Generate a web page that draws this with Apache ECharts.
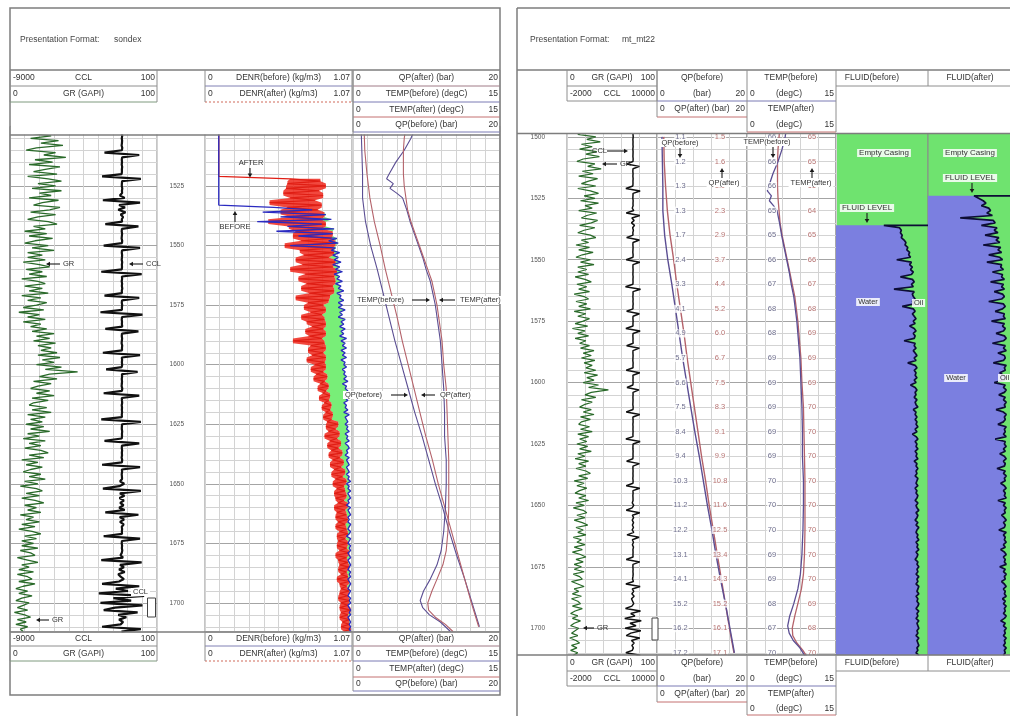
<!DOCTYPE html>
<html>
<head>
<meta charset="utf-8">
<title>Production log before / after</title>
<script src="https://cdn.jsdelivr.net/npm/echarts@6/dist/echarts.min.js"></script>
<style>
html,body{margin:0;padding:0;background:#fff;}
#chart{width:1010px;height:716px;}
</style>
</head>
<body>
<div id="chart"></div>
<script>
// ---------------------------------------------------------------
// Log data. The 1 m curves start at DEPTH_TOP and step 1 m.
// ---------------------------------------------------------------
const DEPTH_TOP = 1495;

// Gamma ray (GAPI)
const grGapi = [
  31,15,34,20,12,32,22,37,16,28,
  14,33,21,36,18,11,31,23,38,17,
  29,13,34,24,16,32,12,26,35,19,
  31,15,35,20,28,13,33,22,16,34,
  27,14,31,19,12,26,32,16,24,10,
  25,13,29,17,10,26,15,30,12,22,
  12,24,9,20,27,11,22,13,25,8,
  19,24,10,22,13,26,8,21,12,25,
  18,9,23,6,20,12,24,9,21,14,
  25,15,30,18,27,16,31,19,28,21,
  32,19,34,22,30,18,35,24,46,27,
  20,32,16,28,19,14,27,18,30,15,
  26,16,13,25,15,28,12,24,14,22,
  11,23,14,27,12,20,9,24,13,21,
  10,21,26,13,23,8,19,11,22,14,
  9,21,13,24,10,19,7,18,22,11,
  20,8,17,23,10,18,12,21,7,16,
  11,20,8,17,6,15,21,10,18,8,
  16,8,19,7,14,17,5,12,19,8,
  13,6,16,5,12,15,6,17,9,4,
  12,6,15,8,4,13,9,5,12,3,
  10,14,5,11,4,12,7,9
];

// Casing collar locator, sondex format
const cclSondex = [
  -2060,-2080,-2050,-2090,-2070,-2040,-2085,-2065,-2075,-2055,
  -2080,-2060,-2070,-2090,-2050,-2075,-3150,-1000,-2060,-2080,
  -2065,-2085,-2055,-2075,-2070,-2090,-3300,-900,-2060,-2075,
  -2080,-2050,-2070,-2060,-2200,-1900,-3250,-950,-2250,-1880,
  -2300,-1850,-2150,-2000,-2080,-2060,-3100,-1050,-2070,-2085,
  -2060,-2075,-2090,-2055,-2070,-3200,-950,-2065,-2080,-2060,
  -2070,-2085,-2055,-2075,-2065,-2080,-3350,-850,-2070,-2060,
  -2085,-2060,-2075,-2050,-2080,-2070,-3150,-1000,-2065,-2080,
  -2055,-2075,-2070,-3400,-800,-2060,-2085,-2065,-2075,-2050,
  -3100,-1050,-2070,-2080,-2060,-2075,-2090,-2055,-2070,-2065,
  -3250,-950,-2080,-2060,-2075,-2055,-2085,-3050,-1100,-2070,
  -2060,-2080,-2065,-2075,-2090,-2050,-2070,-3200,-1000,-2080,
  -2070,-2055,-2085,-2065,-2075,-2060,-2080,-2070,-3350,-900,
  -2060,-2075,-2080,-2055,-2070,-2065,-2085,-3150,-1000,-2070,
  -2080,-2060,-2075,-2065,-2090,-2055,-2070,-3300,-950,-2075,
  -2060,-2085,-2070,-2065,-2190,-1930,-2230,-3250,-900,-2200,
  -1920,-2220,-1950,-2180,-1970,-2240,-1900,-3100,-1050,-2210,
  -1940,-2190,-1960,-2080,-2060,-2075,-2065,-3200,-950,-2070,
  -2085,-2060,-2075,-2050,-2080,-2160,-2000,-3350,-850,-2190,
  -1950,-2250,-1900,-2300,-2150,-1950,-2250,-3300,-1000,-2450,
  -1700,-3500,-700,-2600,-1500,-3400,-800,-2500,-3200,-1100,
  -2300,-1800,-2250,-2000,-2150,-3300,-900,-2100
];

// Casing collar locator, mt format
const cclMt = [
  6790,6820,6780,6810,6800,6830,6785,6805,6795,6815,
  6780,6810,6800,6790,6820,6795,5950,7650,6800,6780,
  6805,6785,6815,6795,6800,6780,5850,7750,6810,6795,
  6780,6820,6800,6810,6700,6900,5900,7700,6650,6950,
  6600,7000,6750,6850,6780,6800,5950,7650,6800,6785,
  6810,6795,6780,6815,6800,5900,7700,6805,6790,6810,
  6800,6785,6815,6795,6805,6790,5800,7800,6800,6810,
  6785,6810,6795,6820,6790,6800,5950,7650,6805,6790,
  6815,6795,6800,5850,7750,6810,6785,6805,6795,6820,
  5950,7650,6800,6790,6810,6795,6780,6815,6800,6805,
  5900,7700,6790,6810,6795,6815,6785,6000,7600,6800,
  6810,6790,6805,6795,6780,6820,6800,5900,7700,6790,
  6800,6815,6785,6805,6795,6810,6790,6800,5850,7750,
  6810,6795,6790,6815,6800,6805,6785,5950,7650,6800,
  6790,6810,6795,6805,6780,6815,6800,5900,7700,6795,
  6810,6785,6800,6805,6700,6900,6680,5900,7700,6720,
  6880,6700,6870,6720,6860,6690,6900,6000,7600,6710,
  6870,6720,6860,6790,6810,6795,6805,5900,7700,6800,
  6785,6810,6795,6820,6790,6740,6860,5850,7750,6700,
  6900,6650,6950,6600,6750,6900,6650,5800,7800,6500,
  7050,5700,7900,6400,7200,5750,7850,6500,5900,7700,
  6600,6950,6650,6850,6700,5850,7750,6750
];

// Fluid density before (kg/m3 scale 0 - 1.07)
const denrBefore = [
  0.10,0.10,0.10,0.10,0.10,0.10,0.10,0.10,0.10,0.10,
  0.10,0.10,0.10,0.10,0.10,0.10,0.10,0.10,0.10,0.10,
  0.10,0.10,0.10,0.10,0.10,0.10,0.10,0.10,0.10,0.10,
  0.10,0.10,0.10,0.10,0.10,0.10,0.10,0.10,0.10,0.50,
  0.78,0.42,0.88,0.55,0.92,0.38,0.85,0.60,0.94,0.52,
  0.93,0.68,0.96,0.90,0.97,0.62,0.95,0.92,0.98,0.93,
  0.97,0.94,0.99,0.93,0.98,0.95,1.00,0.94,0.98,0.96,
  1.00,0.95,0.99,0.97,1.01,0.96,0.99,0.98,1.01,0.97,
  1.00,0.97,1.02,0.98,1.00,0.97,1.02,0.99,1.01,0.98,
  1.02,0.99,1.01,0.98,1.03,0.99,1.02,1.00,1.03,0.99,
  1.02,1.00,1.03,0.99,1.02,1.01,1.03,1.00,1.02,1.01,
  1.03,1.01,1.04,1.00,1.03,1.02,1.04,1.01,1.03,1.02,
  1.04,1.01,1.03,1.02,1.04,1.01,1.05,1.02,1.03,1.04,
  1.02,1.04,1.03,1.05,1.02,1.04,1.03,1.05,1.02,1.04,
  1.05,1.03,1.04,1.02,1.05,1.03,1.04,1.05,1.03,1.04,
  1.05,1.03,1.05,1.04,1.06,1.03,1.05,1.04,1.06,1.04,
  1.05,1.06,1.04,1.05,1.03,1.06,1.04,1.05,1.06,1.04,
  1.05,1.04,1.06,1.05,1.04,1.06,1.05,1.03,1.06,1.05,
  1.04,1.06,1.05,1.06,1.04,1.05,1.06,1.04,1.05,1.06,
  1.05,1.04,1.06,1.05,1.06,1.04,1.05,1.06,1.05,1.04,
  1.06,1.05,1.04,1.06,1.05,1.06,1.04,1.05,1.06,1.05,
  1.06,1.04,1.05,1.06,1.05,1.06,1.05,1.06
];

// Fluid density after
const denrAfter = [
  0.10,0.10,0.10,0.10,0.10,0.10,0.10,0.10,0.10,0.10,
  0.10,0.10,0.10,0.10,0.10,0.10,0.10,0.10,0.10,0.10,
  0.10,0.10,0.10,0.10,0.10,0.10,0.10,0.62,0.84,0.60,
  0.88,0.59,0.83,0.57,0.86,0.62,0.80,0.47,0.85,0.60,
  0.82,0.55,0.87,0.63,0.84,0.46,0.88,0.61,0.85,0.66,
  0.93,0.64,0.92,0.70,0.95,0.58,0.93,0.69,0.94,0.72,
  0.90,0.66,0.95,0.71,0.93,0.62,0.96,0.73,0.94,0.68,
  0.95,0.74,0.93,0.70,0.94,0.76,0.91,0.66,0.90,0.75,
  0.86,0.72,0.88,0.77,0.85,0.70,0.87,0.74,0.88,0.78,
  0.86,0.73,0.88,0.76,0.85,0.64,0.87,0.77,0.88,0.75,
  0.86,0.78,0.88,0.74,0.87,0.80,0.88,0.77,0.86,0.81,
  0.89,0.79,0.87,0.84,0.90,0.82,0.88,0.86,0.91,0.83,
  0.90,0.87,0.92,0.85,0.91,0.88,0.93,0.86,0.92,0.89,
  0.97,0.88,0.95,0.90,0.98,0.87,0.96,0.91,0.99,0.89,
  0.97,0.92,1.00,0.90,0.98,0.93,1.01,0.91,0.99,0.94,
  1.02,0.92,1.00,0.95,1.03,0.93,1.01,0.96,1.02,0.94,
  1.03,0.95,1.01,0.97,1.04,0.94,1.02,0.96,1.03,0.95,
  1.04,0.97,1.02,0.95,1.03,0.98,1.04,0.96,1.02,0.97,
  1.04,0.96,1.03,0.98,1.05,0.95,1.03,0.97,1.04,0.98,
  1.05,0.97,1.03,0.99,1.04,0.96,1.05,0.98,1.03,0.99,
  1.05,0.98,1.04,0.97,1.05,0.99,1.04,0.98,1.06,0.99,
  1.04,0.98,1.05,1.00,1.05,0.99,1.06,1.01
];

// Water / oil boundary, fraction of track (below the fluid level)
const fluidBefore = [
  null,null,null,null,null,null,null,null,null,null,
  null,null,null,null,null,null,null,null,null,null,
  null,null,null,null,null,null,null,null,null,null,
  null,null,null,null,null,null,null,null,null,null,
  null,0.52,0.69,0.71,0.70,0.72,0.71,0.74,0.76,0.75,
  0.78,0.77,0.80,0.79,0.81,0.66,0.82,0.80,0.83,0.81,
  0.84,0.82,0.70,0.83,0.85,0.82,0.84,0.63,0.85,0.83,
  0.84,0.86,0.83,0.85,0.72,0.84,0.86,0.83,0.85,0.87,
  0.84,0.86,0.80,0.85,0.87,0.84,0.86,0.85,0.74,0.86,
  0.85,0.87,0.84,0.86,0.88,0.85,0.87,0.78,0.86,0.88,
  0.85,0.87,0.86,0.88,0.85,0.87,0.81,0.86,0.88,0.86,
  0.87,0.85,0.88,0.86,0.87,0.89,0.84,0.87,0.86,0.88,
  0.86,0.88,0.87,0.89,0.86,0.88,0.83,0.87,0.89,0.86,
  0.88,0.87,0.89,0.86,0.88,0.87,0.89,0.85,0.88,0.87,
  0.89,0.87,0.88,0.86,0.89,0.88,0.87,0.89,0.86,0.88,
  0.87,0.89,0.88,0.86,0.89,0.87,0.88,0.90,0.87,0.89,
  0.88,0.86,0.89,0.87,0.90,0.88,0.87,0.89,0.88,0.90,
  0.87,0.89,0.88,0.90,0.87,0.89,0.88,0.86,0.89,0.88,
  0.90,0.88,0.89,0.87,0.90,0.88,0.89,0.87,0.90,0.89,
  0.88,0.90,0.87,0.89,0.88,0.90,0.89,0.87,0.90,0.88,
  0.89,0.87,0.90,0.88,0.89,0.90,0.88,0.89,0.87,0.90,
  0.88,0.89,0.90,0.88,0.89,0.87,0.90,0.89
];

const fluidAfter = [
  null,null,null,null,null,null,null,null,null,null,
  null,null,null,null,null,null,null,null,null,null,
  null,null,null,null,null,null,null,null,null,0.50,
  0.55,0.60,0.63,0.58,0.66,0.68,0.64,0.70,0.35,0.71,
  0.73,0.58,0.75,0.72,0.76,0.62,0.77,0.74,0.78,0.60,
  0.79,0.76,0.80,0.66,0.78,0.81,0.64,0.80,0.79,0.82,
  0.70,0.81,0.80,0.83,0.68,0.82,0.80,0.83,0.72,0.81,
  0.83,0.80,0.66,0.82,0.84,0.81,0.73,0.83,0.82,0.84,
  0.69,0.83,0.81,0.84,0.82,0.74,0.83,0.85,0.82,0.70,
  0.84,0.82,0.85,0.76,0.83,0.84,0.82,0.71,0.85,0.83,
  0.84,0.78,0.82,0.85,0.83,0.72,0.84,0.82,0.85,0.83,
  0.77,0.84,0.82,0.85,0.83,0.84,0.74,0.82,0.85,0.83,
  0.84,0.82,0.76,0.85,0.83,0.84,0.82,0.85,0.73,0.84,
  0.83,0.85,0.82,0.84,0.78,0.83,0.85,0.82,0.84,0.83,
  0.75,0.84,0.82,0.85,0.83,0.84,0.79,0.83,0.85,0.82,
  0.84,0.83,0.85,0.76,0.84,0.82,0.85,0.83,0.84,0.80,
  0.83,0.85,0.82,0.84,0.83,0.77,0.85,0.82,0.84,0.83,
  0.85,0.82,0.84,0.79,0.83,0.85,0.82,0.84,0.83,0.85,
  0.78,0.84,0.82,0.85,0.83,0.84,0.80,0.83,0.85,0.82,
  0.84,0.83,0.85,0.81,0.84,0.82,0.85,0.83,0.84,0.82,
  0.85,0.83,0.79,0.84,0.82,0.85,0.83,0.84,0.82,0.85,
  0.83,0.84,0.82,0.85,0.83,0.84,0.82,0.85
];

const fluidLevelBefore = 1536;
const fluidLevelAfter = 1524;

// Station readouts every 10 m
const labelDepths = [1500,1510,1520,1530,1540,1550,1560,1570,1580,1590,1600,1610,1620,1630,1640,1650,1660,1670,1680,1690,1700,1710];
const qpBefore = [1.1,1.2,1.3,1.3,1.7,2.4,3.3,4.1,4.9,5.7,6.6,7.5,8.4,9.4,10.3,11.2,12.2,13.1,14.1,15.2,16.2,17.2];
const qpAfter  = [1.5,1.6,1.9,2.3,2.9,3.7,4.4,5.2,6.0,6.7,7.5,8.3,9.1,9.9,10.8,11.6,12.5,13.4,14.3,15.2,16.1,17.1];
const tempBeforeLabels = [66,66,66,65,65,66,67,68,68,69,69,69,69,69,70,70,70,69,69,68,67,70];
const tempAfterLabels  = [65,65,65,64,65,66,67,68,69,69,69,70,70,70,70,70,70,70,70,69,68,70];

// Temperature curves [depth, value]
const tempBeforeCurve = [
  [1495,66.4],[1500,66.0],[1505,65.4],[1510,64.6],[1515,63.6],[1520,62.8],[1522,62.5],[1524,63.3],
  [1526,62.9],[1528,63.7],[1530,64.4],[1535,64.9],[1540,65.3],[1545,65.8],[1550,66.3],[1555,66.8],
  [1560,67.2],[1565,67.7],[1570,68.0],[1575,68.3],[1580,68.5],[1590,68.9],[1600,69.1],[1610,69.3],
  [1620,69.4],[1630,69.4],[1640,69.6],[1650,69.6],[1660,69.5],[1670,69.3],[1678,69.0],[1684,68.5],
  [1690,67.7],[1695,66.9],[1699,66.5],[1702,66.8],[1705,67.6],[1708,68.9],[1712,70.1]
];
const tempAfterCurve = [
  [1495,65.0],[1500,64.8],[1505,64.6],[1510,64.5],[1515,64.5],[1520,64.5],[1525,64.6],[1530,64.8],
  [1535,65.0],[1540,65.4],[1545,65.9],[1550,66.4],[1555,66.9],[1560,67.4],[1565,67.9],[1570,68.2],
  [1575,68.5],[1580,68.7],[1590,69.1],[1600,69.3],[1610,69.6],[1620,69.7],[1630,69.8],[1640,69.9],
  [1650,69.9],[1660,69.9],[1670,69.8],[1678,69.6],[1684,69.2],[1690,68.5],[1695,67.9],[1700,67.4],
  [1703,67.5],[1706,68.3],[1709,69.5],[1712,70.4]
];

// Header legend texts
const lHeadA = [['-9000','CCL','100'],['0','GR (GAPI)','100']];
const lHeadB = [['0','DENR(before) (kg/m3)','1.07'],['0','DENR(after) (kg/m3)','1.07']];
const lHeadC = [['0','QP(after) (bar)','20'],['0','TEMP(before) (degC)','15'],['0','TEMP(after) (degC)','15'],['0','QP(before) (bar)','20']];
const rHeadGr = [['0','GR (GAPI)','100'],['-2000','CCL','10000']];
const rHeadQp = ['QP(before)',['0','(bar)','20'],['0','QP(after) (bar)','20']];
const rHeadTemp = ['TEMP(before)',['0','(degC)','15'],'TEMP(after)',['0','(degC)','15']];
const rHeadFluid = ['FLUID(before)','FLUID(after)'];

// ---------------------------------------------------------------
// Layout
// ---------------------------------------------------------------
const FONT = '"Liberation Sans", Arial, Helvetica, sans-serif';
const TEMP_MIN = 58.5, TEMP_MAX = 76;
const MINOR = '#d3d3d3', MAJOR = '#a4a4a4';
const L = {top: 126.4, bottom: 632, min: 1500, max: 1712.2, rowColors: [MAJOR, MINOR, MINOR, MINOR, MINOR]};
const R = {top: 124.6, bottom: 655, min: 1495, max: 1710.9, rowColors: [MINOR, MAJOR, MINOR, MINOR, MINOR]};
const C_BEFORE = '#5b4e93', C_AFTER = '#b4626a';
const PURPLE = '#7b7fe0', GREEN = '#6fe36f';

const grid = [], xAxis = [], yAxis = [];
function track(left, width, panel, div, opts) {
  opts = opts || {};
  const gi = grid.length;
  grid.push({left: left, width: width, top: panel.top, height: panel.bottom - panel.top,
    show: true, borderColor: '#8a8a8a', borderWidth: 1,
    backgroundColor: opts.bg || 'transparent', outerBoundsMode: 'none'});
  xAxis.push({gridIndex: gi, type: 'value', min: 0, max: div || 1, interval: 1,
    axisLine: {show: false}, axisTick: {show: false}, axisLabel: {show: false},
    splitLine: {show: div > 0, lineStyle: {color: MINOR, width: 1}}});
  const yi = yAxis.length;
  yAxis.push({gridIndex: gi, type: 'value', inverse: true, min: panel.min, max: panel.max, interval: 5,
    axisLine: {show: false}, axisTick: {show: false}, axisLabel: {show: false},
    splitLine: {show: !opts.noRows, lineStyle: {color: panel.rowColors, width: 1}}});
  return {gi: gi, yi: yi};
}
function dataAxis(gi, min, max) {
  xAxis.push({gridIndex: gi, type: 'value', min: min, max: max, show: false});
  return xAxis.length - 1;
}
function depthLabels(gi, panel, margin, skipFirst) {
  yAxis.push({gridIndex: gi, type: 'value', inverse: true, min: panel.min, max: panel.max, interval: 5,
    position: 'left', axisLine: {show: false}, axisTick: {show: false}, splitLine: {show: false},
    axisLabel: {show: true, margin: margin, fontSize: 6.5, color: '#555', fontFamily: FONT,
      formatter: function (v) { return (v % 25 === 0 && !(skipFirst && v === panel.min)) ? String(v) : ''; }}});
}

const tGrL = track(10, 147, L, 10);
const tDenr = track(205, 147, L, 10);
const tQpL = track(353, 147, L, 10);
const tGrR = track(567, 90, R, 5);
const tQpR = track(657, 90, R, 5);
const tTempR = track(747, 89, R, 5);
const tFb = track(836, 92, R, 0, {bg: GREEN, noRows: true});
const tFa = track(928, 92, R, 0, {bg: GREEN, noRows: true});
depthLabels(tDenr.gi, L, 21, true);
depthLabels(tGrR.gi, R, 22, false);

const axGrL = dataAxis(tGrL.gi, 0, 100);
const axCclL = dataAxis(tGrL.gi, -9000, 100);
const axDenr = dataAxis(tDenr.gi, 0, 1.07);
const axQpL = dataAxis(tQpL.gi, 0, 20);
const axTempL = dataAxis(tQpL.gi, TEMP_MIN, TEMP_MAX);
const axGrR = dataAxis(tGrR.gi, 0, 100);
const axCclR = dataAxis(tGrR.gi, -2000, 10000);
const axQpR = dataAxis(tQpR.gi, 0, 20);
const axColQp = dataAxis(tQpR.gi, 0, 1);
const axTempR = dataAxis(tTempR.gi, TEMP_MIN, TEMP_MAX);
const axColTemp = dataAxis(tTempR.gi, 0, 1);
const axFb = dataAxis(tFb.gi, 0, 1);
const axFa = dataAxis(tFa.gi, 0, 1);

// ---------------------------------------------------------------
// Series
// ---------------------------------------------------------------
const series = [];
const samples = function (arr) {
  return arr.map(function (v, i) { return v == null ? null : [v, DEPTH_TOP + i]; }).filter(Boolean);
};
const stations = function (arr) { return labelDepths.map(function (d, i) { return [arr[i], d]; }); };

function curve(xIdx, yIdx, data, color, width, z) {
  series.push({type: 'line', xAxisIndex: xIdx, yAxisIndex: yIdx, data: data, symbol: 'none',
    showSymbol: false, silent: true, clip: true, z: z || 3, lineStyle: {color: color, width: width}});
}
function band(xIdx, yIdx, leftPts, rightPts, color, z) {
  series.push({type: 'custom', xAxisIndex: xIdx, yAxisIndex: yIdx, silent: true, clip: true, z: z || 1,
    data: [0],
    renderItem: function (params, api) {
      const pts = leftPts.map(function (p) { return api.coord(p); })
        .concat(rightPts.slice().reverse().map(function (p) { return api.coord(p); }));
      return {type: 'polygon', shape: {points: pts}, style: {fill: color}};
    }});
}
function readouts(xIdx, yIdx, col, values, digits, color) {
  series.push({type: 'scatter', xAxisIndex: xIdx, yAxisIndex: yIdx, symbolSize: 0, silent: true, z: 8,
    data: labelDepths.map(function (d, i) { return [col, d, values[i]]; }),
    label: {show: true, position: 'inside', color: color, fontSize: 7.5, fontFamily: FONT,
      backgroundColor: '#fff', padding: [0, 1],
      formatter: function (p) { return p.data[2].toFixed(digits); }}});
}

// Left panel: GR / CCL
curve(axGrL, tGrL.yi, samples(grGapi), '#2a6a2a', 1.3);
curve(axCclL, tGrL.yi, samples(cclSondex), '#111', 2.2);

// Left panel: density. Red = spread of the after-run trace over neighbouring
// samples, green = where the before-run reads above that spread.
const WET = 0.3; // density reading above this is in fluid, below is the empty casing
const denrWet = denrAfter.map(function (v, i) { return v > WET && denrBefore[i] > WET; });
function neighbours(i) {
  return [denrAfter[i - 1], denrAfter[i], denrAfter[i + 1]].filter(function (w) { return w != null && w > WET; });
}
const redLeft = [], redRight = [], greenLeft = [], greenRight = [];
denrAfter.forEach(function (v, i) {
  if (v <= WET) return;
  const d = DEPTH_TOP + i, nb = neighbours(i);
  const lo = Math.min.apply(null, nb), hi = Math.max.apply(null, nb);
  redLeft.push([lo, d]); redRight.push([hi, d]);
  if (denrWet[i]) { greenLeft.push([hi, d]); greenRight.push([Math.max(hi, denrBefore[i]), d]); }
});
band(axDenr, tDenr.yi, greenLeft, greenRight, '#78ee78', 1);
band(axDenr, tDenr.yi, redLeft, redRight, 'rgba(238,40,28,0.85)', 1);
curve(axDenr, tDenr.yi, samples(denrAfter), '#e01e14', 1.2, 3);
curve(axDenr, tDenr.yi, samples(denrBefore), '#2a2ac0', 1.3, 4);

// Left panel: pressure / temperature
curve(axQpL, tQpL.yi, stations(qpBefore), C_BEFORE, 1.1);
curve(axQpL, tQpL.yi, stations(qpAfter), C_AFTER, 1.1);
curve(axTempL, tQpL.yi, tempBeforeCurve.map(function (p) { return [p[1], p[0]]; }), C_BEFORE, 1.1);
curve(axTempL, tQpL.yi, tempAfterCurve.map(function (p) { return [p[1], p[0]]; }), C_AFTER, 1.1);

// Right panel: GR / CCL
curve(axGrR, tGrR.yi, samples(grGapi), '#2a6a2a', 1.2);
curve(axCclR, tGrR.yi, samples(cclMt), '#111', 1.5);

// Right panel: pressure with station readouts
curve(axQpR, tQpR.yi, stations(qpAfter), C_AFTER, 1.4);
curve(axQpR, tQpR.yi, stations(qpBefore), C_BEFORE, 1.4);
readouts(axColQp, tQpR.yi, 0.26, qpBefore, 1, '#4a4a70');
readouts(axColQp, tQpR.yi, 0.70, qpAfter, 1, '#a5504f');

// Right panel: temperature with station readouts
curve(axTempR, tTempR.yi, tempAfterCurve.map(function (p) { return [p[1], p[0]]; }), C_AFTER, 1.3);
curve(axTempR, tTempR.yi, tempBeforeCurve.map(function (p) { return [p[1], p[0]]; }), C_BEFORE, 1.3);
readouts(axColTemp, tTempR.yi, 0.28, tempBeforeLabels, 0, '#4a4a70');
readouts(axColTemp, tTempR.yi, 0.73, tempAfterLabels, 0, '#a5504f');

// Right panel: fluid identification (water below the level, oil to the right)
function fluidTrack(xIdx, yIdx, arr, level) {
  const edge = samples(arr);
  band(xIdx, yIdx, edge.map(function (p) { return [0, p[1]]; }), edge, PURPLE, 1);
  curve(xIdx, yIdx, [[1, level]].concat(edge), '#0d0d35', 1.7, 3);
}
fluidTrack(axFb, tFb.yi, fluidBefore, fluidLevelBefore);
fluidTrack(axFa, tFa.yi, fluidAfter, fluidLevelAfter);

// ---------------------------------------------------------------
// Frames, headers and annotations
// ---------------------------------------------------------------
const g = [];
const FRAME = '#7d7d7d', RULE = '#8e8e8e';
function hl(x1, x2, y, c, w, dash) {
  const st = {stroke: c || RULE, lineWidth: w || 1};
  if (dash) st.lineDash = dash;
  g.push({type: 'line', z: 60, silent: true, shape: {x1: x1, y1: y, x2: x2, y2: y}, style: st});
}
function vl(x, y1, y2, c, w) {
  g.push({type: 'line', z: 60, silent: true, shape: {x1: x, y1: y1, x2: x, y2: y2}, style: {stroke: c || RULE, lineWidth: w || 1}});
}
function tx(x, y, s, align, size, color, bg, z) {
  const st = {text: s, fill: color || '#333', font: (size || 8.5) + 'px ' + FONT,
    align: align || 'left', verticalAlign: 'middle', textAlign: align || 'left', textVerticalAlign: 'middle'};
  if (bg) { st.backgroundColor = bg; st.padding = [0, 2]; }
  g.push({type: 'text', z: z || 61, silent: true, x: x, y: y, style: st});
}
function rect(x, y, w, h, fill, stroke, lw, z) {
  g.push({type: 'rect', z: z || 60, silent: true, shape: {x: x, y: y, width: w, height: h},
    style: {fill: fill || 'none', stroke: stroke || null, lineWidth: lw || 1}});
}
function arrow(x1, y1, x2, y2, c) {
  c = c || '#1a1a1a';
  const dx = x2 - x1, dy = y2 - y1, len = Math.hypot(dx, dy), ux = dx / len, uy = dy / len, h = 4, w = 2.3;
  g.push({type: 'line', z: 62, silent: true, shape: {x1: x1, y1: y1, x2: x2 - ux * h * 0.7, y2: y2 - uy * h * 0.7}, style: {stroke: c, lineWidth: 1.1}});
  g.push({type: 'polygon', z: 62, silent: true, shape: {points: [[x2, y2], [x2 - ux * h - uy * w, y2 - uy * h + ux * w], [x2 - ux * h + uy * w, y2 - uy * h - ux * w]]}, style: {fill: c}});
}
function rows3(x0, x1, ys, rows, lineColors, dashes) {
  rows.forEach(function (r, k) {
    const ym = (ys[k] + ys[k + 1]) / 2;
    tx(x0 + 3, ym, r[0], 'left');
    tx((x0 + x1) / 2, ym, r[1], 'center');
    tx(x1 - 2, ym, r[2], 'right');
    hl(x0, x1, ys[k + 1], lineColors[k], 1, dashes ? dashes[k] : null);
  });
  vl(x0, ys[0], ys[rows.length]);
  vl(x1, ys[0], ys[rows.length]);
}

// covers over the extended grid tops / bottoms
rect(11, 124.5, 488, 10, '#fff', null, 1, 50);
rect(518, 122.5, 492, 10.8, '#fff', null, 1, 50);
rect(518, 655.6, 492, 4, '#fff', null, 1, 50);

// ---- left panel (sondex) ----
rect(10, 8, 490, 687, 'none', FRAME, 1.5);
hl(10, 500, 70, FRAME, 1.5);
tx(20, 40, 'Presentation Format:', 'left', 8.5, '#444');
tx(114, 40, 'sondex', 'left', 8.5, '#444');
hl(10, 500, 135, FRAME, 1.5);
hl(10, 500, 632, FRAME, 1.5);

function leftHeader(ys) {
  rows3(10, 157, ys, lHeadA, [RULE, '#7f9a7f']);
  rows3(205, 352, ys, lHeadB, ['#8080b4', '#d06a5a'], [null, [2, 2]]);
  rows3(353, 500, ys, lHeadC, ['#a07a86', '#7a7ab4', '#c47070', '#7a7ab4']);
}
leftHeader([70, 86, 102, 117, 132]);
leftHeader([632, 646, 661, 677, 691]);
vl(353, 70, 135);

// left panel notes
tx(251, 163, 'AFTER', 'center', 7.5);
arrow(250, 168, 250, 177.5);
tx(235, 227, 'BEFORE', 'center', 7.5);
arrow(235, 222, 235, 211);
arrow(60, 264, 46, 264);
tx(63, 264, 'GR', 'left', 7.5);
arrow(143, 264, 129, 264);
tx(146, 264, 'CCL', 'left', 7.5);
arrow(49, 620, 36, 620);
tx(52, 620, 'GR', 'left', 7.5);
tx(131, 592, 'CCL', 'left', 7.5, '#333', '#fff');
rect(147.5, 598, 8, 19, '#fff', '#444', 1, 62);
vl(150.5, 600, 615, '#555', 1); vl(152.5, 600, 615, '#555', 1);
tx(355, 300, 'TEMP(before)', 'left', 7.5, '#333', '#fff');
arrow(412, 300, 430, 300);
arrow(455, 300, 439, 300);
tx(458, 300, 'TEMP(after)', 'left', 7.5, '#333', '#fff');
tx(343, 395, 'QP(before)', 'left', 7.5, '#333', '#fff');
arrow(391, 395, 408, 395);
arrow(435, 395, 421, 395);
tx(438, 395, 'QP(after)', 'left', 7.5, '#333', '#fff');
rect(500.8, 290, 15, 20, '#fff', null, 1, 63);

// ---- right panel (mt_mt22) ----
hl(517, 1010, 8, FRAME, 1.5);
vl(517, 8, 716, FRAME, 1.5);
hl(517, 1010, 70, FRAME, 1.5);
tx(530, 40, 'Presentation Format:', 'left', 8.5, '#444');
tx(622, 40, 'mt_mt22', 'left', 8.5, '#444');
hl(517, 1010, 133.5, FRAME, 1.5);
hl(517, 1010, 655, FRAME, 1.5);

function rightHeader(ys) {
  rows3(567, 657, [ys[0], ys[1], ys[2]], rHeadGr, [RULE, RULE]);
  // pressure block
  tx(702, (ys[0] + ys[1]) / 2, rHeadQp[0], 'center');
  tx(660, (ys[1] + ys[2]) / 2, rHeadQp[1][0], 'left');
  tx(702, (ys[1] + ys[2]) / 2, rHeadQp[1][1], 'center');
  tx(745, (ys[1] + ys[2]) / 2, rHeadQp[1][2], 'right');
  hl(657, 747, ys[2], '#7a7ab4');
  tx(660, (ys[2] + ys[3]) / 2, rHeadQp[2][0], 'left');
  tx(702, (ys[2] + ys[3]) / 2, rHeadQp[2][1], 'center');
  tx(745, (ys[2] + ys[3]) / 2, rHeadQp[2][2], 'right');
  hl(657, 747, ys[3], '#c47070');
  vl(657, ys[0], ys[3]);
  // temperature block
  tx(791, (ys[0] + ys[1]) / 2, rHeadTemp[0], 'center');
  tx(750, (ys[1] + ys[2]) / 2, rHeadTemp[1][0], 'left');
  tx(789, (ys[1] + ys[2]) / 2, rHeadTemp[1][1], 'center');
  tx(834, (ys[1] + ys[2]) / 2, rHeadTemp[1][2], 'right');
  hl(747, 836, ys[2], '#7a7ab4');
  tx(791, (ys[2] + ys[3]) / 2, rHeadTemp[2], 'center');
  tx(750, (ys[3] + ys[4]) / 2, rHeadTemp[3][0], 'left');
  tx(789, (ys[3] + ys[4]) / 2, rHeadTemp[3][1], 'center');
  tx(834, (ys[3] + ys[4]) / 2, rHeadTemp[3][2], 'right');
  hl(747, 836, ys[4], '#c47070');
  vl(747, ys[0], ys[4]);
  vl(836, ys[0], ys[4]);
  // fluid blocks
  tx(872, (ys[0] + ys[1]) / 2, rHeadFluid[0], 'center');
  tx(970, (ys[0] + ys[1]) / 2, rHeadFluid[1], 'center');
  hl(836, 1010, ys[1]);
  vl(928, ys[0], ys[1]);
}
rightHeader([70, 86, 101, 117, 132]);
rightHeader([655, 671, 686, 702, 715]);

// right panel notes
tx(592, 151, 'CCL', 'left', 7.5);
arrow(607, 151, 628, 151);
arrow(617, 164, 602, 164);
tx(620, 164, 'GR', 'left', 7.5);
arrow(594, 628, 583, 628);
tx(597, 628, 'GR', 'left', 7.5);
rect(652, 618, 6, 22, '#fff', '#444', 1, 62);
vl(654.5, 620, 638, '#555', 1);
tx(680, 143, 'QP(before)', 'center', 7.5, '#333', '#fff', 63);
arrow(680, 148, 680, 158);
tx(724, 183, 'QP(after)', 'center', 7.5, '#333', '#fff', 63);
arrow(722, 178, 722, 168);
tx(767, 142, 'TEMP(before)', 'center', 7.5, '#333', '#fff', 63);
arrow(773, 147, 773, 158);
tx(811, 183, 'TEMP(after)', 'center', 7.5, '#333', '#fff', 63);
arrow(812, 178, 812, 168);

const NOTE_BG = 'rgba(255,255,255,0.85)';
tx(884, 153, 'Empty Casing', 'center', 8, '#333', NOTE_BG);
tx(867, 208, 'FLUID LEVEL', 'center', 8, '#333', NOTE_BG);
arrow(867, 213, 867, 223);
tx(970, 153, 'Empty Casing', 'center', 8, '#333', NOTE_BG);
tx(970, 178, 'FLUID LEVEL', 'center', 8, '#333', NOTE_BG);
arrow(972, 183, 972, 193);
tx(868, 302, 'Water', 'center', 7.5, '#333', NOTE_BG);
tx(912, 303, 'Oil', 'left', 7.5, '#333', NOTE_BG);
tx(956, 378, 'Water', 'center', 7.5, '#333', NOTE_BG);
tx(998, 378, 'Oil', 'left', 7.5, '#333', NOTE_BG);

// ---------------------------------------------------------------
const chart = echarts.init(document.getElementById('chart'), null, {renderer: 'canvas'});
chart.setOption({
  animation: false,
  backgroundColor: '#fff',
  grid: grid,
  xAxis: xAxis,
  yAxis: yAxis,
  series: series,
  graphic: {elements: g}
});
</script>
</body>
</html>
